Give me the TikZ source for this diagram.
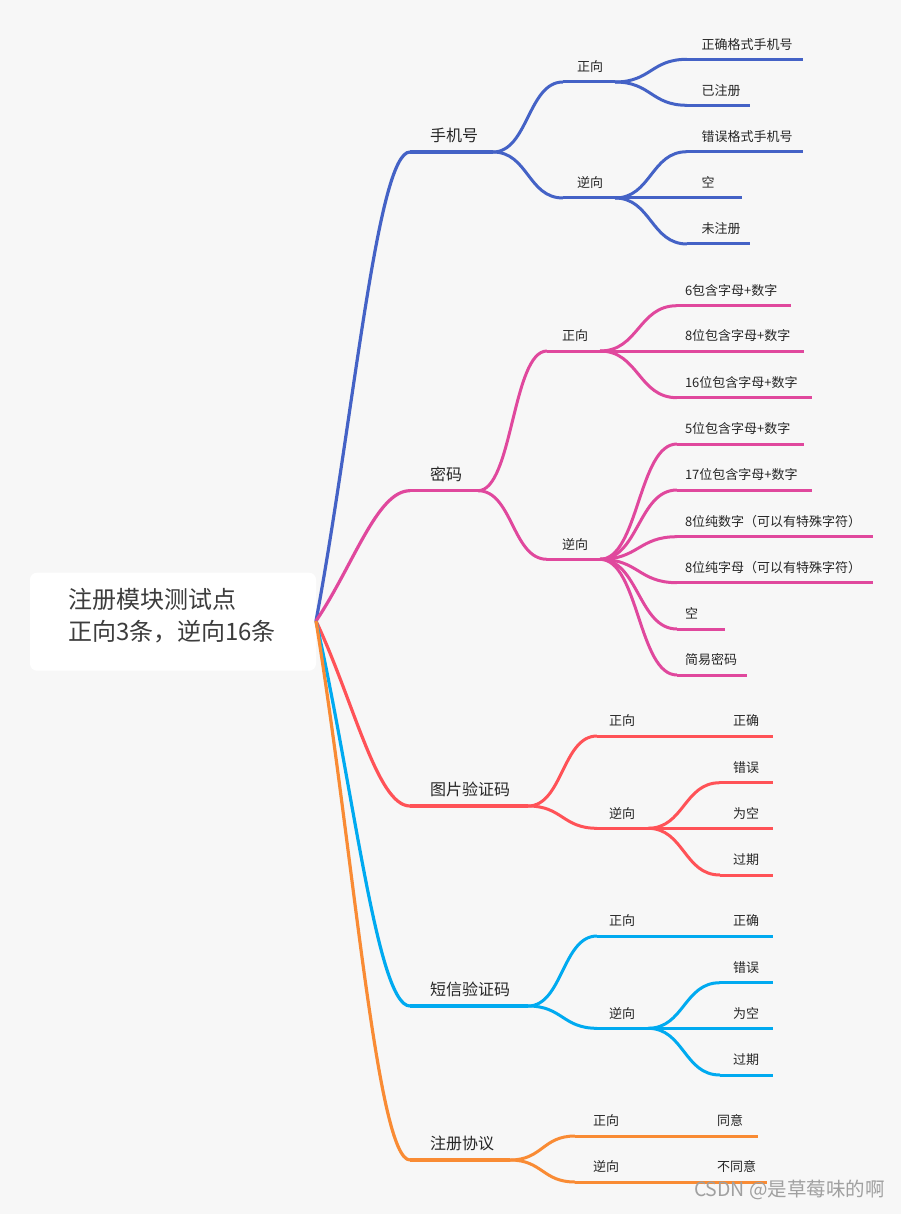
\documentclass[tikz,border=0pt]{standalone}
\usepackage{fontspec}
\setmainfont{Noto Sans CJK SC}
\usetikzlibrary{calc}
\definecolor{bgc}{HTML}{F7F7F7}
\definecolor{txt}{HTML}{262626}
\definecolor{cblue}{HTML}{4462C6}
\definecolor{cpink}{HTML}{E0489D}
\definecolor{cred}{HTML}{FF5257}
\definecolor{ccyan}{HTML}{00AAF0}
\definecolor{corange}{HTML}{F98B34}
\definecolor{wm}{HTML}{A0A0A0}
\tikzset{
  lblbase/.style={inner sep=0pt,outer sep=0pt,text=txt,text height=0.83em,text depth=0.07em},
  tone/.style={lblbase,font=\fontsize{16}{18}\selectfont},
  ttwo/.style={lblbase,font=\fontsize{13}{15}\selectfont},
  blueA/.style={draw=cblue,line width=3.2pt},
  blueB/.style={draw=cblue,line width=3pt},
  pinkA/.style={draw=cpink,line width=3.2pt},
  pinkB/.style={draw=cpink,line width=3pt},
  redA/.style={draw=cred,line width=3.2pt},
  redB/.style={draw=cred,line width=3pt},
  cyanA/.style={draw=ccyan,line width=3.2pt},
  cyanB/.style={draw=ccyan,line width=3pt},
  orangeA/.style={draw=corange,line width=3.2pt},
  orangeB/.style={draw=corange,line width=3pt},
}
% #1 line style, #2 text style, #3 name, #4 x text, #5 x start, #6 x end, #7 y, #8 text
\newcommand\mmtopic[8]{%
  \coordinate (#3-s) at (#5,#7);
  \coordinate (#3-e) at (#6,#7);
  \node[#2,anchor=west] (#3) at (#4,#7-14) {#8};
  \draw[#1] (#3-s) -- (#3-e);
}
% connector from the root: leaves at an angle, ends horizontal
\newcommand\mmroot[3]{%
  \draw[#1] let \p1=(#2), \p2=(#3) in (\p1) .. controls ({\x1+0.4*(\x2-\x1)},{\y1+0.43*(\y2-\y1)}) and ({\x1+0.65*(\x2-\x1)},\y2) .. (\p2);
}
% S-shaped connector between sub topics
\newcommand\mmlink[3]{%
  \draw[#1] let \p1=(#2), \p2=(#3) in (\p1) .. controls ({\x1+0.5*(\x2-\x1)},\y1) and ({\x1+0.5*(\x2-\x1)},\y2) .. (\p2);
}
\begin{document}
\begin{tikzpicture}[x=1pt,y=-1pt]
\fill[bgc] (0,0) rectangle (901,1214);
\useasboundingbox (0,0) rectangle (901,1214);
% root
\node[fill=white,rounded corners=7pt,minimum width=286pt,minimum height=98pt,inner sep=0pt] (root) at (173,621.7) {};
\node[lblbase,anchor=west,text=txt!90,font=\fontsize{24}{28}\selectfont] (rootA) at (68,604.7) {注册模块测试点};
\node[lblbase,anchor=west,text=txt!90,font=\fontsize{24}{28}\selectfont] (rootB) at (68,637) {正向3条，逆向16条};
\coordinate (rootp) at (316,621);

% ---------- 手机号 ----------
\mmtopic{blueA}{tone}{phone}{430}{410}{493}{152}{手机号}
\mmroot{blueA}{rootp}{phone-s}
\mmtopic{blueB}{ttwo}{pz}{577}{563}{615}{82}{正向}
\mmtopic{blueB}{ttwo}{pn}{577}{563}{615}{198}{逆向}
\mmlink{blueB}{phone-e}{pz-s}
\mmlink{blueB}{phone-e}{pn-s}
\mmtopic{blueB}{ttwo}{pa}{701.7}{687}{803}{59.3}{正确格式手机号}
\mmtopic{blueB}{ttwo}{pb}{701.7}{687}{750}{105.3}{已注册}
\mmtopic{blueB}{ttwo}{pc}{701.7}{687}{803}{151.7}{错误格式手机号}
\mmtopic{blueB}{ttwo}{pd}{701.7}{687}{742}{198}{空}
\mmtopic{blueB}{ttwo}{pe}{701.7}{687}{750}{244}{未注册}
\mmlink{blueB}{pz-e}{pa-s}
\mmlink{blueB}{pz-e}{pb-s}
\mmlink{blueB}{pn-e}{pc-s}
\mmlink{blueB}{pn-e}{pd-s}
\mmlink{blueB}{pn-e}{pe-s}

% ---------- 密码 ----------
\mmtopic{pinkA}{tone}{pwd}{430}{410}{478}{490.7}{密码}
\mmroot{pinkA}{rootp}{pwd-s}
\mmtopic{pinkB}{ttwo}{wz}{562}{547}{600}{351}{正向}
\mmtopic{pinkB}{ttwo}{wn}{562}{547}{600}{559.3}{逆向}
\mmlink{pinkB}{pwd-e}{wz-s}
\mmlink{pinkB}{pwd-e}{wn-s}
\mmtopic{pinkB}{ttwo}{wa}{685}{677}{791}{305.7}{6包含字母+数字}
\mmtopic{pinkB}{ttwo}{wb}{685}{677}{804}{351}{8位包含字母+数字}
\mmtopic{pinkB}{ttwo}{wc}{685}{677}{812}{397.7}{16位包含字母+数字}
\mmtopic{pinkB}{ttwo}{wd}{685}{677}{804}{444}{5位包含字母+数字}
\mmtopic{pinkB}{ttwo}{we}{685}{677}{812}{490}{17位包含字母+数字}
\mmtopic{pinkB}{ttwo}{wf}{685}{677}{873}{536.7}{8位纯数字（可以有特殊字符）}
\mmtopic{pinkB}{ttwo}{wg}{685}{677}{873}{582.7}{8位纯字母（可以有特殊字符）}
\mmtopic{pinkB}{ttwo}{wh}{685}{677}{725}{629}{空}
\mmtopic{pinkB}{ttwo}{wi}{685}{677}{747}{675}{简易密码}
\mmlink{pinkB}{wz-e}{wa-s}
\mmlink{pinkB}{wz-e}{wb-s}
\mmlink{pinkB}{wz-e}{wc-s}
\mmlink{pinkB}{wn-e}{wd-s}
\mmlink{pinkB}{wn-e}{we-s}
\mmlink{pinkB}{wn-e}{wf-s}
\mmlink{pinkB}{wn-e}{wg-s}
\mmlink{pinkB}{wn-e}{wh-s}
\mmlink{pinkB}{wn-e}{wi-s}

% ---------- 图片验证码 ----------
\mmtopic{redA}{tone}{img}{430}{410}{528}{806}{图片验证码}
\mmroot{redA}{rootp}{img-s}
\mmtopic{redB}{ttwo}{iz}{609}{597}{648}{736}{正向}
\mmtopic{redB}{ttwo}{in}{609}{597}{648}{828.3}{逆向}
\mmlink{redB}{img-e}{iz-s}
\mmlink{redB}{img-e}{in-s}
\mmtopic{redB}{ttwo}{ia}{733}{720}{773}{736}{正确}
\mmtopic{redB}{ttwo}{ib}{733}{720}{773}{782.7}{错误}
\mmtopic{redB}{ttwo}{ic}{733}{720}{773}{828.3}{为空}
\mmtopic{redB}{ttwo}{id}{733}{720}{773}{875}{过期}
\mmlink{redB}{iz-e}{ia-s}
\mmlink{redB}{in-e}{ib-s}
\mmlink{redB}{in-e}{ic-s}
\mmlink{redB}{in-e}{id-s}

% ---------- 短信验证码 ----------
\mmtopic{cyanA}{tone}{sms}{430}{410}{528}{1006}{短信验证码}
\mmroot{cyanA}{rootp}{sms-s}
\mmtopic{cyanB}{ttwo}{sz}{609}{597}{648}{936}{正向}
\mmtopic{cyanB}{ttwo}{sn}{609}{597}{648}{1028.3}{逆向}
\mmlink{cyanB}{sms-e}{sz-s}
\mmlink{cyanB}{sms-e}{sn-s}
\mmtopic{cyanB}{ttwo}{sa}{733}{720}{773}{936}{正确}
\mmtopic{cyanB}{ttwo}{sb}{733}{720}{773}{982.7}{错误}
\mmtopic{cyanB}{ttwo}{sc}{733}{720}{773}{1028.3}{为空}
\mmtopic{cyanB}{ttwo}{sd}{733}{720}{773}{1075}{过期}
\mmlink{cyanB}{sz-e}{sa-s}
\mmlink{cyanB}{sn-e}{sb-s}
\mmlink{cyanB}{sn-e}{sc-s}
\mmlink{cyanB}{sn-e}{sd-s}

% ---------- 注册协议 ----------
\mmtopic{orangeA}{tone}{agr}{430}{410}{510}{1160}{注册协议}
\mmroot{orangeA}{rootp}{agr-s}
\mmtopic{orangeB}{ttwo}{az}{593}{575}{632}{1136}{正向}
\mmtopic{orangeB}{ttwo}{an}{593}{575}{632}{1182}{逆向}
\mmlink{orangeB}{agr-e}{az-s}
\mmlink{orangeB}{agr-e}{an-s}
\mmtopic{orangeB}{ttwo}{aa}{717}{700}{758}{1136}{同意}
\mmtopic{orangeB}{ttwo}{ab}{717}{700}{767}{1182}{不同意}
\mmlink{orangeB}{az-e}{aa-s}
\mmlink{orangeB}{an-e}{ab-s}

% watermark
\node[lblbase,anchor=west,text=wm,font=\fontsize{19.5}{22}\selectfont] (wmark) at (694,1193) {CSDN @是草莓味的啊};
\end{tikzpicture}
\end{document}
